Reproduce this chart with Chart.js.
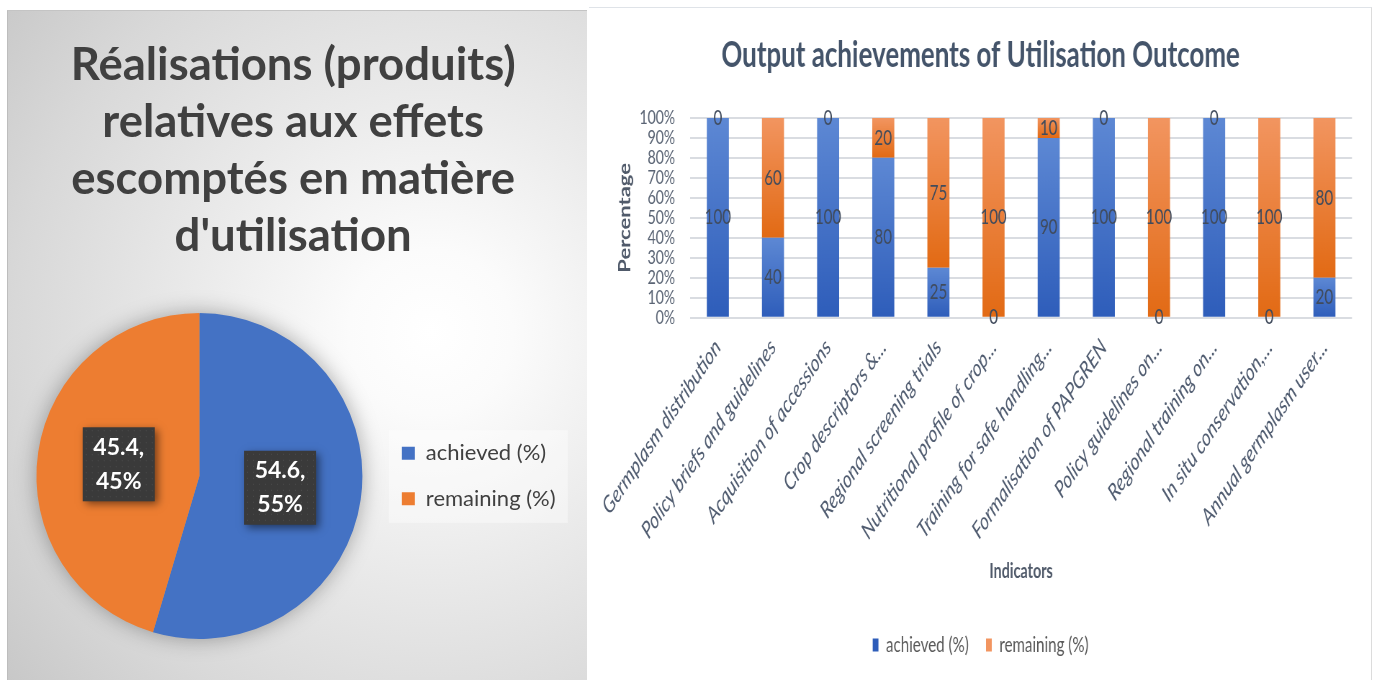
<!DOCTYPE html>
<html><head><meta charset="utf-8">
<script src="https://cdn.jsdelivr.net/npm/chart.js@4.4.1/dist/chart.umd.min.js"></script>
<style>
html,body{margin:0;padding:0;background:#fff;width:1373px;height:680px;overflow:hidden;}
#leftBg{position:absolute;left:7px;top:10px;width:580px;height:670px;box-sizing:border-box;border-left:1px solid #bdbdbd;border-top:1px solid #c4c4c4;
background:radial-gradient(circle farthest-corner at 73% 48%, #ffffff 0%, #fbfbfb 15%, #ebebeb 42%, #d8d8d8 76%, #c8c8c8 100%);}
#pieCanvas{position:absolute;left:7px;top:10px;}
#rightBg{position:absolute;left:589px;top:7px;width:783px;height:673px;box-sizing:border-box;border-top:1px solid #dfe3e8;border-right:1px solid #dcdcdc;background:#fff;}
#barCanvas{position:absolute;left:590px;top:8px;transform:scaleX(0.72);transform-origin:0 0;}
</style></head><body>
<div id="leftBg"></div><canvas id="pieCanvas" width="580" height="670"></canvas>
<div id="rightBg"></div><canvas id="barCanvas" width="1085" height="672"></canvas>
<script>
// ---------- data ----------
const pieTitle = ["Réalisations (produits)", "relatives aux effets", "escomptés en matière", "d'utilisation"];
const pieLabels = ["achieved (%)", "remaining (%)"];
const pieValues = [54.6, 45.4];

const barTitle = "Output achievements of Utilisation Outcome";
const indicators = [
  "Germplasm distribution",
  "Policy briefs and guidelines",
  "Acquisition of accessions",
  "Crop descriptors &...",
  "Regional screening trials",
  "Nutritional profile of crop...",
  "Training for safe handling...",
  "Formalisation of PAPGREN",
  "Policy guidelines on...",
  "Regional training on...",
  "In situ conservation,...",
  "Annual germplasm user..."
];
const seriesNames = ["achieved (%)", "remaining (%)"];
const achieved  = [100, 40, 100, 80, 25, 0, 90, 100, 0, 100, 0, 20];
const remaining = [0, 60, 0, 20, 75, 100, 10, 0, 100, 0, 100, 80];
const yTickLabels = ["0%","10%","20%","30%","40%","50%","60%","70%","80%","90%","100%"];
const xAxisTitle = "Indicators";
const yAxisTitle = "Percentage";

Chart.defaults.font.family = 'Lato';

// ---------- pie ----------
const pieShadow = {
  id: 'pieShadow',
  beforeDatasetsDraw(chart) {
    const arc = chart.getDatasetMeta(0).data[0];
    if (!arc) return;
    const {x, y, outerRadius} = arc.getProps(['x','y','outerRadius'], true);
    const ctx = chart.ctx;
    ctx.save();
    ctx.shadowColor = 'rgba(0,0,0,0.35)';
    ctx.shadowBlur = 22;
    ctx.fillStyle = '#9a9a9a';
    ctx.beginPath(); ctx.arc(x, y, outerRadius - 1, 0, Math.PI * 2); ctx.fill();
    ctx.restore();
  }
};
const legendBackdrop = {
  id: 'legendBackdrop',
  beforeDraw(chart) {
    const hb = chart.legend && chart.legend.legendHitBoxes;
    if (!hb || !hb.length) return;
    const ctx = chart.ctx;
    const x0 = hb[0].left - 13, y0 = hb[0].top - 12;
    const last = hb[hb.length - 1];
    ctx.save();
    ctx.fillStyle = 'rgba(255,255,255,0.4)';
    ctx.fillRect(x0, y0, 179, last.top + last.height + 12 - y0 + 1);
    ctx.restore();
  }
};
const pieLabelBoxes = {
  id: 'pieLabelBoxes',
  afterDatasetsDraw(chart) {
    const ctx = chart.ctx;
    const meta = chart.getDatasetMeta(0);
    const vals = chart.data.datasets[0].data;
    const total = vals.reduce((a, b) => a + b, 0);
    meta.data.forEach((arc, i) => {
      const p = arc.getProps(['x','y','startAngle','endAngle','outerRadius'], true);
      const mid = (p.startAngle + p.endAngle) / 2;
      const r = p.outerRadius * 0.5;
      const cx = p.x + Math.cos(mid) * r, cy = p.y + Math.sin(mid) * r;
      const w = 72, h = 74;
      ctx.save();
      ctx.shadowColor = 'rgba(0,0,0,0.5)'; ctx.shadowBlur = 8; ctx.shadowOffsetX = 3; ctx.shadowOffsetY = 3;
      ctx.fillStyle = '#3a3a3a';
      ctx.fillRect(cx - w / 2, cy - h / 2, w, h);
      ctx.restore();
      ctx.save();
      ctx.fillStyle = 'rgba(255,255,255,0.10)';
      for (let dx = 3; dx < w; dx += 6) for (let dy = 3; dy < h; dy += 6) ctx.fillRect(cx - w / 2 + dx, cy - h / 2 + dy, 1, 1);
      ctx.fillStyle = '#ffffff';
      ctx.font = 'bold 23px Lato';
      ctx.textAlign = 'center'; ctx.textBaseline = 'middle';
      ctx.fillText(vals[i] + ',', cx, cy - 17);
      ctx.fillText(Math.round(vals[i] / total * 100) + '%', cx, cy + 17);
      ctx.restore();
    });
  }
};

new Chart(document.getElementById('pieCanvas'), {
  type: 'pie',
  data: {
    labels: pieLabels,
    datasets: [{ data: pieValues, backgroundColor: ['#4472C4', '#ED7D31'], borderWidth: 0, radius: 163 }]
  },
  options: {
    responsive: false, animation: false, devicePixelRatio: 1,
    layout: { padding: { left: 13.7, right: 21.4, top: 0, bottom: 0 } },
    plugins: {
      title: { display: true, text: pieTitle, color: '#404040',
        font: { family: 'Lato', size: 45.5, weight: 'bold', lineHeight: 1.253 },
        padding: { top: 26.5, bottom: 7.5 } },
      legend: { position: 'right', fullSize: false,
        labels: { font: { family: 'Lato', size: 22 }, color: '#404040', boxWidth: 13, boxHeight: 13, padding: 23.7 } },
      tooltip: { enabled: false }
    }
  },
  plugins: [legendBackdrop, pieShadow, pieLabelBoxes]
});

// ---------- stacked bars ----------
function segGrad(c, light, dark) {
  const chart = c.chart;
  if (c.type !== 'data' || !chart.chartArea || !chart.scales.y) return dark;
  const ys = chart.scales.y;
  let lo = 0;
  for (let k = 0; k < c.datasetIndex; k++) lo += chart.data.datasets[k].data[c.dataIndex];
  const hi = lo + c.raw;
  const top = ys.getPixelForValue(hi), bot = ys.getPixelForValue(lo);
  if (bot - top < 1) return light;
  const g = chart.ctx.createLinearGradient(0, top, 0, bot);
  g.addColorStop(0, light); g.addColorStop(1, dark);
  return g;
}
const barValueLabels = {
  id: 'barValueLabels',
  afterDatasetsDraw(chart) {
    const ctx = chart.ctx;
    ctx.save();
    ctx.font = '21px Lato';
    ctx.fillStyle = '#404b5c';
    ctx.textAlign = 'center'; ctx.textBaseline = 'middle';
    chart.data.datasets.forEach((ds, d) => {
      chart.getDatasetMeta(d).data.forEach((el, i) => {
        const pt = el.getCenterPoint();
        ctx.fillText(String(ds.data[i]), pt.x, pt.y);
      });
    });
    ctx.restore();
  }
};

new Chart(document.getElementById('barCanvas'), {
  type: 'bar',
  data: {
    labels: indicators,
    datasets: [
      { label: seriesNames[0], data: achieved, backgroundColor: c => segGrad(c, '#5D88D4', '#2E5DBA'),
        borderWidth: 0, barPercentage: 0.4, categoryPercentage: 1 },
      { label: seriesNames[1], data: remaining, backgroundColor: c => segGrad(c, '#F29560', '#E26A14'),
        borderWidth: 0, barPercentage: 0.4, categoryPercentage: 1 }
    ]
  },
  options: {
    responsive: false, animation: false, devicePixelRatio: 1,
    layout: { padding: { left: 0, right: 0, top: 0, bottom: 14.4 } },
    scales: {
      x: {
        stacked: true,
        grid: { display: false, drawTicks: false }, border: { display: false },
        ticks: { autoSkip: false, minRotation: 47, maxRotation: 47, padding: 16, color: '#505c70',
          font: { family: 'Lato', size: 23.5, style: 'italic' } },
        title: { display: true, text: xAxisTitle, color: '#505a6a',
          font: { family: 'Lato', size: 20, weight: 'bold' }, padding: { top: 0, bottom: 26.6 } },
        afterFit: s => { s.height = 292.9; }
      },
      y: {
        stacked: true, min: 0, max: 100,
        ticks: { stepSize: 10, autoSkip: false, callback: (v, i) => yTickLabels[i], color: '#5a6474',
          font: { family: 'Lato', size: 19.5 }, padding: 21 },
        grid: { color: '#d9dce1', lineWidth: 2, drawTicks: false }, border: { display: false },
        title: { display: true, text: yAxisTitle, color: '#505a6a',
          font: { family: 'Lato', size: 22, weight: 'bold' }, padding: { top: 29.8, bottom: 0 } },
        afterFit: s => { s.width = 133.3; }
      },
      yRight: {
        position: 'right', display: true, min: 0, max: 100,
        grid: { display: false, drawTicks: false }, border: { display: false },
        ticks: { display: false },
        afterFit: s => { s.width = 26.7; }
      }
    },
    plugins: {
      title: { display: true, text: barTitle, color: '#44546A',
        font: { family: 'Lato', size: 36, weight: 'bold' }, padding: { top: 25.5, bottom: 41.2 } },
      legend: { position: 'bottom',
        labels: { boxWidth: 8, boxHeight: 13, padding: 24, color: '#595959', font: { family: 'Lato', size: 21 } } },
      tooltip: { enabled: false }
    }
  },
  plugins: [barValueLabels]
});
</script>
</body></html>
